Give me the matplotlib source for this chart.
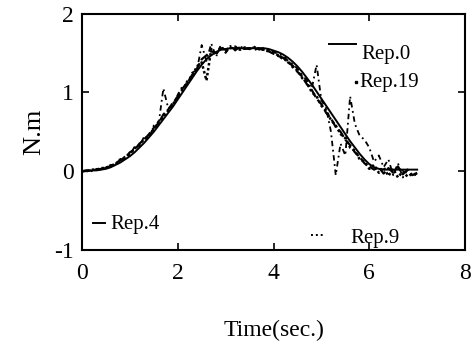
import matplotlib
matplotlib.use("Agg")
import matplotlib.pyplot as plt
import numpy as np

t = [round(0.1 * i, 1) for i in range(71)]

rep0 = [0.00, 0.00, 0.01, 0.01, 0.02, 0.03, 0.05, 0.08, 0.11, 0.15,
        0.19, 0.24, 0.30, 0.36, 0.43, 0.50, 0.58, 0.66, 0.74, 0.82,
        0.91, 1.00, 1.09, 1.18, 1.27, 1.35, 1.42, 1.47, 1.51, 1.54,
        1.55, 1.56, 1.56, 1.56, 1.56, 1.56, 1.56, 1.56, 1.56, 1.55,
        1.53, 1.51, 1.48, 1.44, 1.39, 1.33, 1.26, 1.18, 1.10, 1.01,
        0.92, 0.83, 0.74, 0.65, 0.56, 0.47, 0.38, 0.30, 0.22, 0.15,
        0.09, 0.05, 0.03, 0.02, 0.02, 0.02, 0.02, 0.02, 0.02, 0.02,
        0.02]

rep4 = [0.00, 0.01, 0.01, 0.02, 0.03, 0.05, 0.06, 0.10, 0.14, 0.17,
        0.24, 0.27, 0.35, 0.40, 0.47, 0.55, 0.61, 0.72, 0.78, 0.87,
        0.94, 1.05, 1.12, 1.22, 1.30, 1.42, 1.47, 1.52, 1.50, 1.56,
        1.54, 1.57, 1.55, 1.57, 1.55, 1.56, 1.54, 1.56, 1.53, 1.52,
        1.49, 1.46, 1.44, 1.38, 1.34, 1.26, 1.20, 1.10, 1.03, 0.92,
        0.85, 0.74, 0.67, 0.56, 0.50, 0.40, 0.33, 0.24, 0.18, 0.10,
        0.06, 0.02, 0.05, -0.03, 0.04, -0.02, 0.06, -0.04, 0.02, -0.05,
        -0.02]

rep9 = [0.00, 0.00, 0.02, 0.02, 0.04, 0.04, 0.07, 0.09, 0.15, 0.16,
        0.22, 0.29, 0.33, 0.41, 0.45, 0.53, 0.63, 0.68, 0.77, 0.85,
        0.95, 1.02, 1.14, 1.20, 1.33, 1.38, 1.15, 1.55, 1.48, 1.58,
        1.52, 1.56, 1.58, 1.54, 1.57, 1.55, 1.57, 1.55, 1.54, 1.53,
        1.50, 1.47, 1.42, 1.40, 1.32, 1.28, 1.18, 1.12, 1.00, 0.95,
        0.83, 0.77, 0.65, 0.58, 0.47, 0.42, 0.30, 0.26, 0.15, 0.12,
        0.03, 0.08, -0.02, 0.05, -0.06, 0.03, -0.08, 0.00, -0.07, -0.03,
        -0.05]

rep19 = [0.00, 0.01, 0.00, 0.03, 0.02, 0.05, 0.08, 0.07, 0.13, 0.19,
         0.21, 0.31, 0.32, 0.44, 0.42, 0.58, 0.60, 1.05, 0.80, 0.83,
         0.97, 1.08, 1.11, 1.25, 1.28, 1.60, 1.40, 1.62, 1.45, 1.60,
         1.50, 1.59, 1.53, 1.58, 1.56, 1.55, 1.58, 1.54, 1.57, 1.54,
         1.52, 1.48, 1.47, 1.40, 1.36, 1.30, 1.22, 1.15, 1.05, 1.35,
         0.90, 0.80, 0.50, -0.05, 0.35, 0.20, 0.95, 0.60, 0.45, 0.40,
         0.30, 0.12, 0.20, 0.05, 0.15, -0.05, 0.10, -0.08, 0.02, -0.06,
         -0.03]

plt.rcParams['font.family'] = ['Liberation Serif', 'DejaVu Serif']
plt.rcParams['axes.unicode_minus'] = False

fig = plt.figure(figsize=(4.75, 3.43), dpi=100)
ax = fig.add_axes([0.1726, 0.271, 0.8064, 0.6896])

ax.plot(t, rep0, color='black', lw=1.4, ls='-')
ax.plot(t, rep4, color='black', lw=1.6, ls=(0, (4, 1.5)))
ax.plot(t, rep9, color='black', lw=1.8, ls=(0, (1, 1)))
ax.plot(t, rep19, color='black', lw=1.3, ls=(0, (3, 2, 1, 2)))

ax.set_xlim(0, 8)
ax.set_ylim(-1, 2)
ax.set_xticks([0, 2, 4, 6, 8])
ax.set_yticks([-1, 0, 1, 2])
ax.tick_params(direction='in', length=5, width=1.2, labelsize=17,
               top=True, right=True)
ax.tick_params(axis='x', pad=9)
ax.tick_params(axis='y', pad=6)
for s in ax.spines.values():
    s.set_linewidth(1.5)

ax.set_xlabel('Time(sec.)', fontsize=17, labelpad=26)
ax.set_ylabel('N.m', fontsize=19, labelpad=6)

# in-plot legend labels
kw = dict(transform=ax.transAxes, fontsize=15, va='center')
ax.plot([0.645, 0.715], [0.87, 0.87], color='black', lw=1.4, transform=ax.transAxes)
ax.text(0.73, 0.825, 'Rep.0', **kw)
ax.plot([0.715], [0.71], marker='s', ms=1.8, color='black', transform=ax.transAxes)
ax.text(0.725, 0.71, 'Rep.19', **kw)
ax.plot([0.03, 0.06], [0.114, 0.114], color='black', lw=1.4, transform=ax.transAxes)
ax.text(0.075, 0.11, 'Rep.4', **kw)
ax.plot([0.598, 0.635], [0.063, 0.063], color='black', lw=1.4, ls=(0, (1, 1.5)), transform=ax.transAxes)
ax.text(0.70, 0.03, 'Rep.9', transform=ax.transAxes, fontsize=15, va='baseline', clip_on=True)

fig.savefig('out.png', dpi=100)
